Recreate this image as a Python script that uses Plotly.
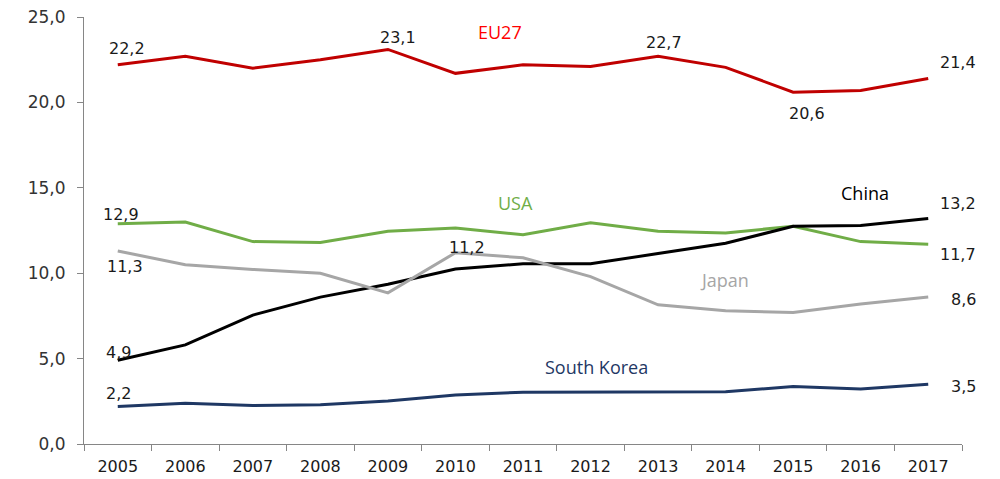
import plotly.graph_objects as go

years = [str(y) for y in range(2005, 2018)]
eu27 = [22.2, 22.7, 22.0, 22.5, 23.1, 21.7, 22.2, 22.1, 22.7, 22.05, 20.6, 20.7, 21.4]
usa = [12.9, 13.0, 11.85, 11.8, 12.45, 12.65, 12.25, 12.95, 12.45, 12.35, 12.75, 11.85, 11.7]
china = [4.9, 5.8, 7.55, 8.6, 9.35, 10.25, 10.55, 10.55, 11.15, 11.75, 12.75, 12.8, 13.2]
japan = [11.3, 10.5, 10.22, 10.0, 8.85, 11.2, 10.9, 9.8, 8.15, 7.8, 7.7, 8.2, 8.6]
korea = [2.2, 2.38, 2.25, 2.3, 2.52, 2.87, 3.03, 3.05, 3.08, 3.06, 3.36, 3.22, 3.5]
yticks = [0, 5, 10, 15, 20, 25]

series = [
    ("EU27", eu27, "#c00000", "#ff0000", 500, 32),
    ("USA", usa, "#70ad47", "#70ad47", 515, 203),
    ("China", china, "#000000", "#000000", 865, 193),
    ("Japan", japan, "#a6a6a6", "#a6a6a6", 724, 280),
    ("South Korea", korea, "#1f3864", "#1f3864", 596, 367),
]

fig = go.Figure()
for name, vals, col, _, _, _ in series:
    fig.add_trace(go.Scatter(x=years, y=vals, mode="lines", name=name,
                             line=dict(color=col, width=3), showlegend=False))

# plot area in pixels
L, R, T, B = 84, 962, 17, 444
def px(x):
    return (x - L) / (R - L)
def py(y):
    return (B - y) / (B - T)

annotations = []
for name, vals, _, tcol, lx, ly in series:
    annotations.append(dict(text=name, x=px(lx), y=py(ly), xref="paper", yref="paper",
                            showarrow=False, font=dict(family="Open Sans", size=18, color=tcol),
                            xanchor="center", yanchor="middle"))

def fmt(v):
    return f"{v:.1f}".replace(".", ",")

lab_font = dict(family="DejaVu Sans", size=16, color="#1a1a1a")
# (series values, index, xshift, yshift, xanchor)
labels = [
    (eu27, 0, 9, 16, "center"),
    (eu27, 4, 10, 12, "center"),
    (eu27, 8, 6, 14, "center"),
    (eu27, 10, 14, -21, "center"),
    (eu27, 12, 50, 16, "right"),
    (usa, 0, 3, 9, "center"),
    (usa, 12, 50, -10, "right"),
    (china, 0, 1, 8, "center"),
    (china, 12, 50, 15, "right"),
    (japan, 0, 7, -15, "center"),
    (japan, 5, 12, 5, "center"),
    (japan, 12, 50, -2, "right"),
    (korea, 0, 1, 13, "center"),
    (korea, 12, 50, -2, "right"),
]
for vals, i, xs, ys, xa in labels:
    annotations.append(dict(text=fmt(vals[i]), x=i, y=vals[i], xref="x", yref="y",
                            showarrow=False, xshift=xs, yshift=ys, xanchor=xa,
                            yanchor="middle", font=lab_font))

fig.update_layout(
    width=1000, height=479,
    margin=dict(l=L, r=1000 - R, t=T, b=479 - B),
    paper_bgcolor="white", plot_bgcolor="white",
    separators=",.",
    annotations=annotations,
    xaxis=dict(type="category", range=[-0.5, 12.5], showline=True, linecolor="#868686",
               linewidth=1, ticks="outside", tickson="boundaries", ticklen=6,
               tickcolor="#868686", showgrid=False, zeroline=False,
               ticklabelstandoff=8, automargin=False,
               tickfont=dict(family="DejaVu Sans", size=16, color="#1a1a1a")),
    yaxis=dict(range=[0, 25], tickvals=yticks, tickformat=".1f", showline=True,
               linecolor="#868686", linewidth=1, ticks="outside", ticklen=6,
               tickcolor="#868686", showgrid=False, zeroline=False,
               ticklabelstandoff=8, automargin=False,
               tickfont=dict(family="DejaVu Sans", size=17, color="#333333")),
)

fig.write_html("out.html")
